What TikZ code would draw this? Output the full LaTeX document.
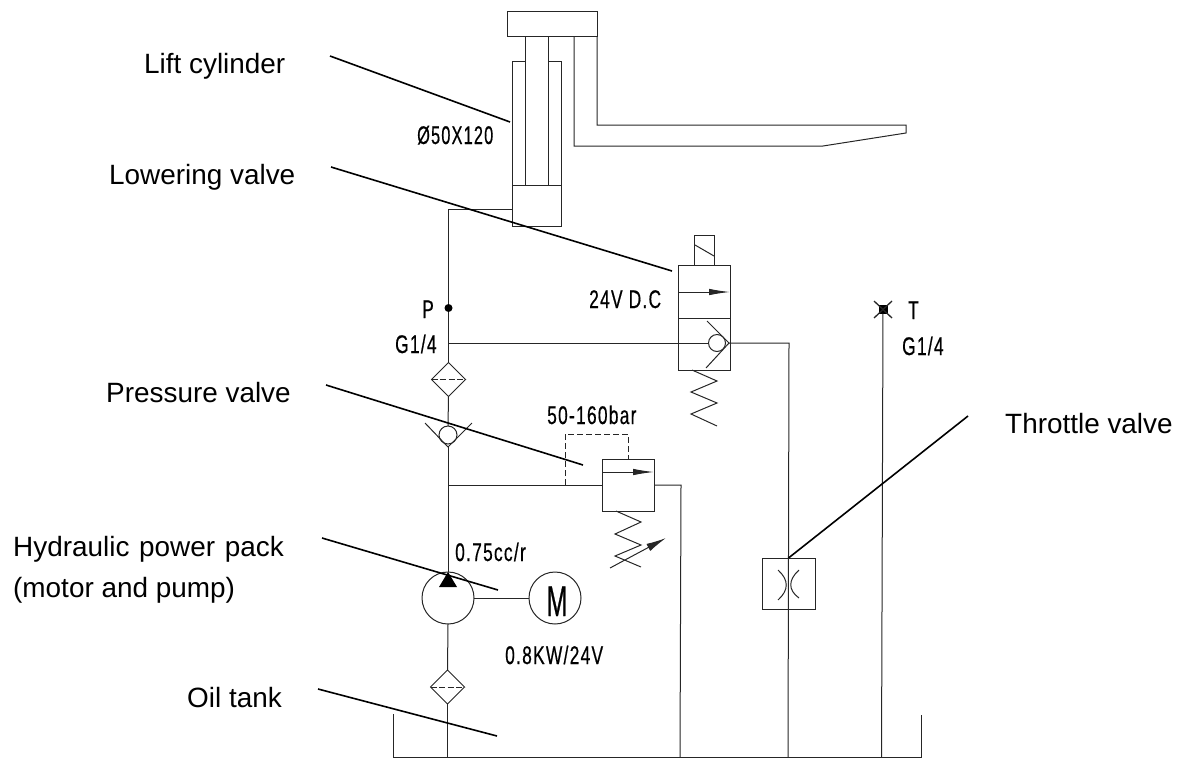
\documentclass[tikz,border=0pt]{standalone}
\usepackage{fontspec}
\usetikzlibrary{shapes.geometric, arrows.meta}
\setmainfont{Liberation Sans}
\newfontfamily\narrowfont[FakeStretch=0.68, LetterSpace=5, FakeBold=0.5]{Liberation Sans}
\newfontfamily\motorfont[FakeStretch=0.58, FakeBold=0.6]{Liberation Sans}
\tikzset{
  pipe/.style={line width=1pt, black!85},
  leader/.style={line width=1.6pt, black},
  part/.style={draw, line width=1pt, black!85, rectangle, inner sep=0pt, outer sep=0pt},
  round part/.style={part, circle},
  filter/.style={part, diamond, minimum width=34pt, minimum height=34pt},
  label text/.style={anchor=base west, inner sep=0pt, font=\fontsize{27.9}{30}\selectfont},
  spec text/.style={anchor=base west, inner sep=0pt, font=\fontsize{25.5}{27}\narrowfont},
  flow arrow/.style={line width=1pt, black!85, -{Latex[length=21pt, width=6.5pt]}},
}
\begin{document}
\begin{tikzpicture}[x=1pt, y=-1pt]
  \useasboundingbox (0,0) rectangle (1182,763);

  \node (barrel) [part, minimum width=49pt, minimum height=124pt] at (536.5,123) {};
  \node (piston) [part, minimum width=49pt, minimum height=41pt] at (536.5,205.5) {};
  \node (rod) [part, fill=white, minimum width=23pt, minimum height=149pt] at (536.5,110.5) {};
  \node (platen) [part, minimum width=90pt, minimum height=25pt] at (552,23.5) {};
  \draw[pipe] (574,36) -- (574,146) -- (823,146) -- (906,133) -- (906,125) -- (597,125) -- (597,36);

  \node (lowering) [part, minimum width=52pt, minimum height=105pt] at (704,317.5) {};
  \node (solenoid) [part, minimum width=20pt, minimum height=30pt] at (704,250) {};
  \draw[pipe] (695,245) -- (714,256);
  \draw[pipe] (678,318) -- (730,318);
  \draw[flow arrow] (678,292) -- (730,292);
  \node (loweringball) [round part, minimum size=17pt] at (717,343) {};
  \draw[pipe] (707,321) -- (729,343) -- (706,368);
  \draw[pipe] (692,370) -- (717,381) -- (691,392) -- (717,403) -- (691,414) -- (717,426);

  \node (reliefvalve) [part, minimum width=52pt, minimum height=52pt] at (628,485) {};
  \draw[flow arrow] (602,472) -- (654,472);
  \draw[pipe] (616,511) -- (641,522) -- (615,534) -- (641,545) -- (615,556) -- (641,567);
  \draw[flow arrow, -{Latex[length=20pt, width=8pt]}] (610,568) -- (666,538);
  \draw[pipe, dash pattern=on 6pt off 3pt] (565,485) -- (565,434) -- (628,434) -- (reliefvalve.north);

  \node (pport) [circle, fill=black, minimum size=8pt, inner sep=0pt] at (448.5,308) {};
  \node (pfilter) [filter] at (448.5,379.5) {};
  \node (checkball) [round part, minimum size=18pt] at (448,435) {};
  \draw[pipe] (425,423) -- (448,447) -- (472,423);
  \node (pump) [round part, minimum size=52pt] at (448,598) {};
  \node (motor) [round part, minimum size=52pt] at (555,598) {};
  \node (tankfilter) [filter] at (447.5,687) {};
  \fill[black] (448,572) -- (457,587) -- (439,587) -- cycle;
  \draw[pipe, dash pattern=on 6pt off 2.5pt] (pfilter.west) -- (pfilter.east);
  \draw[pipe, dash pattern=on 6pt off 2.5pt] (tankfilter.west) -- (tankfilter.east);

  \node (throttle) [part, minimum width=53pt, minimum height=51pt] at (788.5,583.5) {};
  \draw[pipe] (778,570) .. controls (789,580) and (789,590) .. (778,600);
  \draw[pipe] (799,570) .. controls (788,580) and (788,590) .. (799,598);

  \node (tport) [rectangle, fill=black, minimum size=9pt, inner sep=0pt] at (883,309) {};
  \draw[pipe, line width=1.3pt] (874,301) -- (892,318) (892,301) -- (874,318);

  \coordinate (tankleft) at (393,714);
  \coordinate (tankright) at (921,715);
  \coordinate (pressureline) at (448,485);
  \coordinate (lowerline) at (448.5,343);
  \draw[pipe] (tankleft) -- (393,757) -- (921,757) -- (tankright);
  \draw[pipe] (piston.west |- 0,209) -- (448.5,209) -- (pport);
  \draw[pipe] (pport) -- (pfilter.north);
  \draw[pipe] (pfilter.south) -- (checkball.north);
  \draw[pipe] (448,447) -- (pump.north);
  \draw[pipe] (pump.south) -- (tankfilter.north);
  \draw[pipe] (tankfilter.south) -- (447.5,757);
  \draw[pipe] (pump.east) -- (motor.west);
  \draw[pipe] (lowerline) -- (loweringball.west);
  \draw[pipe] (729,343) -- (789,343) -- (788,757);
  \draw[pipe] (pressureline) -- (reliefvalve.west);
  \draw[pipe] (reliefvalve.east) -- (681,485) -- (680,757);
  \draw[pipe] (tport) -- (881.5,757);

  \node (lifttext) [label text] at (144,73) {Lift cylinder};
  \node (lowertext) [label text] at (109,184) {Lowering valve};
  \node (pressuretext) [label text] at (106,402) {Pressure valve};
  \node (packtext) [label text] at (13,556) {Hydraulic\hspace{2pt} power\hspace{2pt} pack};
  \node (motortext) [label text] at (13,597) {(motor and pump)};
  \node (oiltext) [label text] at (187,707) {Oil tank};
  \node (throttletext) [label text] at (1005,433) {Throttle valve};

  \coordinate (liftend) at (330,56);
  \coordinate (lowerend) at (331,167);
  \coordinate (pressureend) at (326,385);
  \coordinate (packend) at (322,538);
  \coordinate (oilend) at (318,689);
  \coordinate (throttleend) at (968,416);
  \draw[leader] (liftend) -- (510,122);
  \draw[leader] (lowerend) -- (672,271);
  \draw[leader] (pressureend) -- (583,465);
  \draw[leader] (packend) -- (498,590);
  \draw[leader] (oilend) -- (497,736);
  \draw[leader] (throttleend) -- (throttle.north);

  \node (boretext) [spec text] at (417,144) {\scalebox{0.94}[1]{Ø50X120}};
  \node (voltstext) [spec text] at (589,308) {24V D.C};
  \node (ptext) [spec text] at (422,318) {P};
  \node (pthread) [spec text] at (395,353) {G1/4};
  \node (ttext) [spec text] at (908,319) {T};
  \node (tthread) [spec text] at (902,355) {G1/4};
  \node (bartext) [spec text] at (547,424) {50-160bar};
  \node (flowtext) [spec text] at (455,561) {0.75cc/r};
  \node (powertext) [spec text] at (505,664) {0.8KW/24V};
  \node (motorletter) [anchor=base, inner sep=0pt, font=\fontsize{43}{45}\motorfont] at (557,616) {M};
\end{tikzpicture}
\end{document}
